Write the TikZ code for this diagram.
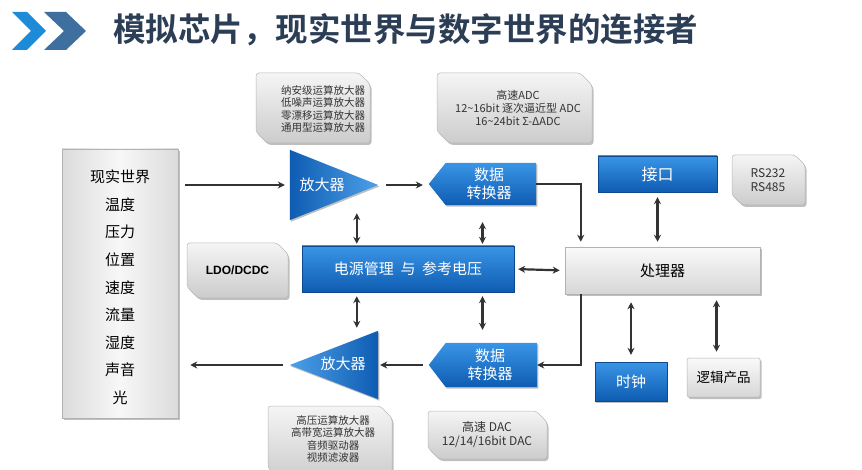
\documentclass[tikz,border=0pt]{standalone}
\usepackage{fontspec}
\setmainfont{Noto Sans CJK SC}
\newfontfamily\cjkb{Noto Sans CJK SC Bold}
\usetikzlibrary{calc,shadows,arrows.meta}
\definecolor{titlec}{HTML}{2C3E55}
\definecolor{chevA}{HTML}{1E8BD8}
\definecolor{chevB}{HTML}{3F6F9F}
\definecolor{blueT}{HTML}{3A95E6}
\definecolor{blueB}{HTML}{0E5CB2}
\definecolor{arrc}{HTML}{333333}
\definecolor{gtxt}{HTML}{333333}
\tikzset{
  gbox/.style={rounded corners=3pt, top color=white!96!black, bottom color=white!80!black,
    draw=white!72!black, line width=0.5pt,
    drop shadow={shadow xshift=1.5pt, shadow yshift=-2pt, opacity=0.25, fill=black}},
  bbox/.style={rectangle, inner sep=0pt, top color=blueT, bottom color=blueB, draw=blueB!80!black,
    line width=0.3pt, text=white, font=\fontsize{15}{17}\selectfont,
    drop shadow={shadow xshift=1.2pt, shadow yshift=-1.5pt, opacity=0.25, fill=black}},
  prbox/.style={rectangle, inner sep=0pt, top color=white!98!black, bottom color=white!84!black,
    draw=white!70!black, line width=0.5pt, text=black,
    drop shadow={shadow xshift=1.5pt, shadow yshift=-2pt, opacity=0.25, fill=black}},
  anchorbox/.style={rectangle, inner sep=0pt},
  tri/.style={left color=blueB, right color=blueT!90!white},
  conv/.style={top color=blueT, bottom color=blueB,
    drop shadow={shadow xshift=1.2pt, shadow yshift=-1.5pt, opacity=0.25, fill=black}},
  wtxt/.style={text=white, font=\fontsize{15}{18}\selectfont, align=center, inner sep=0pt},
  gt/.style={text=gtxt, font=\fontsize{10.5}{12.5}\selectfont, align=center, inner sep=0pt},
  gts/.style={text=gtxt, font=\fontsize{12}{14.5}\selectfont, align=center, inner sep=0pt},
  wl/.style={text=black, font=\fontsize{15}{17}\selectfont, inner sep=0pt},
  arr/.style={draw=arrc, line width=2.2pt, -{Stealth[length=7pt,width=7pt]}},
  darr/.style={draw=arrc, line width=2.2pt, {Stealth[length=7pt,width=7pt]}-{Stealth[length=7pt,width=7pt]}},
}
\newcommand\mygbox[5]{%
  \path[gbox] (#1,#2) -- ({#3-#5},#2) -- (#3,{#2+#5}) -- (#3,#4) -- ({#1+#5},#4) -- (#1,{#4-#5}) -- cycle;}
\begin{document}
\begin{tikzpicture}[x=1pt,y=-1pt]
\useasboundingbox[fill=white] (0,0) rectangle (862,470);
% title
\fill[chevA] (12,12) -- (27,12) -- (46,31) -- (27,50) -- (12,50) -- (31,31) -- cycle;
\fill[chevB] (44,12) -- (66,12) -- (86,31) -- (66,50) -- (44,50) -- (64,31) -- cycle;
\node[anchor=west, text=titlec, font=\cjkb\fontsize{32.5}{34}\selectfont, inner sep=0pt] (title) at (113,30) {模拟芯片，现实世界与数字世界的连接者};

% left world box
\node[prbox, minimum width=116pt, minimum height=269pt, left color=white!86!black, right color=white!86!black, middle color=white!97!black] (world) at (120,283.5) {};
\foreach \t [count=\i from 0] in {现实世界,温度,压力,位置,速度,流量,湿度,声音,光}
  \node[wl] (w\i) at (120,{177+27.6*\i}) {\t};

% gray info boxes
\mygbox{256}{73}{370}{143}{11}
\node[gt] (gTL) at (323,109) {纳安级运算放大器\\低噪声运算放大器\\零漂移运算放大器\\通用型运算放大器};
\mygbox{437}{73}{592}{143}{12}
\node[gt, font=\fontsize{11}{13}\selectfont] (gADC) at (518,108) {高速ADC\\12\char`\~16bit 逐次逼近型 ADC\\16\char`\~24bit Σ-ΔADC};
\mygbox{187}{243}{288}{298}{11}
\node[text=black, inner sep=0pt] (ldo) at (237.5,270.5) {\fontspec{Liberation Sans}\fontsize{12}{14}\selectfont\bfseries LDO/DCDC};
\mygbox{732}{155}{805}{205}{10}
\node[gts] (rs) at (768,180) {RS232\\RS485};
\mygbox{268}{406}{392}{480}{12}
\node[gt] (gBL) at (333,439) {高压运算放大器\\高带宽运算放大器\\音频驱动器\\视频滤波器};
\mygbox{428}{411}{547}{459}{11}
\node[gts] (gDAC) at (487,434.5) {高速 DAC\\12/14/16bit DAC};

% amplifier top
\node[anchorbox, minimum width=88pt, minimum height=70pt] (amp1) at (334,185) {};
\path[tri, drop shadow={shadow xshift=1.2pt, shadow yshift=-1.5pt, opacity=0.25, fill=black}] (amp1.north west) -- (amp1.east) -- (amp1.south west) -- cycle;
\node[wtxt] (amp1t) at (322,185) {放大器};
% converter top
\node[anchorbox, minimum width=107pt, minimum height=42pt] (conv1) at (482.5,184) {};
\path[conv] (conv1.west) -- ($(conv1.north west)+(17,0)$) -- (conv1.north east) -- (conv1.south east) -- ($(conv1.south west)+(17,0)$) -- cycle;
\node[wtxt] (conv1t) at (489,184) {数据\\转换器};

% power
\node[bbox, minimum width=212pt, minimum height=46pt] (power) at (408,269) {电源管理 \ 与 \ 参考电压};
% processor
\node[prbox, minimum width=195pt, minimum height=47pt, font=\fontsize{15}{17}\selectfont] (proc) at (662.5,270.5) {处理器};
% interface
\node[bbox, minimum width=119pt, minimum height=36pt, font=\fontsize{16}{18}\selectfont] (iface) at (657.5,174) {接口};
% clock
\node[bbox, minimum width=72pt, minimum height=39pt] (clock) at (631,381.5) {时钟};
% logic
\node[prbox, rounded corners=1.5pt, minimum width=73pt, minimum height=39pt, font=\fontsize{13.5}{15}\selectfont] (logic) at (723.5,377.5) {逻辑产品};

% amplifier bottom
\node[anchorbox, minimum width=88pt, minimum height=68pt] (amp2) at (334,365) {};
\path[tri, left color=blueT!90!white, right color=blueB, drop shadow={shadow xshift=1.2pt, shadow yshift=-1.5pt, opacity=0.25, fill=black}] (amp2.north east) -- (amp2.west) -- (amp2.south east) -- cycle;
\node[wtxt] (amp2t) at (343,364) {放大器};
% converter bottom
\node[anchorbox, minimum width=108pt, minimum height=44pt] (conv2) at (483,365) {};
\path[conv] (conv2.west) -- ($(conv2.north west)+(17,0)$) -- (conv2.north east) -- (conv2.south east) -- ($(conv2.south west)+(17,0)$) -- cycle;
\node[wtxt] (conv2t) at (490,365) {数据\\转换器};

% connectors
\draw[arr, shorten <=7pt, shorten >=5pt] (world.east |- amp1) -- (amp1.west);
\draw[arr, shorten <=8pt, shorten >=6pt] (amp1.east) -- (conv1.west |- amp1.east);
\coordinate (pin) at ($(proc.north west)+(16,0)$);
\draw[arr, shorten >=5pt] (conv1.east) -| (pin);
\draw[darr, shorten <=5pt, shorten >=5pt] (iface.south) -- (iface.south |- proc.north);
\draw[darr, shorten <=4pt, shorten >=5pt] (power.east) -- (proc.west);
\coordinate (v1) at ($(amp1.south west)+(67,-7)$);
\draw[darr, shorten >=2pt] (v1) -- (v1 |- power.north);
\draw[darr, shorten <=17pt, shorten >=2pt] (conv1.south) -- (conv1.south |- power.north);
\coordinate (v2) at ($(amp2.north west)+(67,-3)$);
\draw[darr, shorten <=4pt] (v2 |- power.south) -- (v2);
\draw[darr, shorten <=4pt, shorten >=13pt] (conv1.south |- power.south) -- (conv1.south |- conv2.north);
\coordinate (pout) at ($(proc.south west)+(16,0)$);
\draw[arr] (pout) |- (conv2.east);
\draw[arr, shorten <=6pt, shorten >=2pt] (conv2.west) -- (amp2.east |- conv2.west);
\draw[arr, shorten <=7pt, shorten >=12pt] (amp2.west) -- (world.east |- amp2.west);
\draw[darr, shorten <=8pt, shorten >=7pt] (clock.north |- proc.south) -- (clock.north);
\coordinate (lg) at ($(logic.north)+(-7,0)$);
\draw[darr, shorten <=6pt, shorten >=6pt] (lg |- proc.south) -- (lg);
\end{tikzpicture}
\end{document}
